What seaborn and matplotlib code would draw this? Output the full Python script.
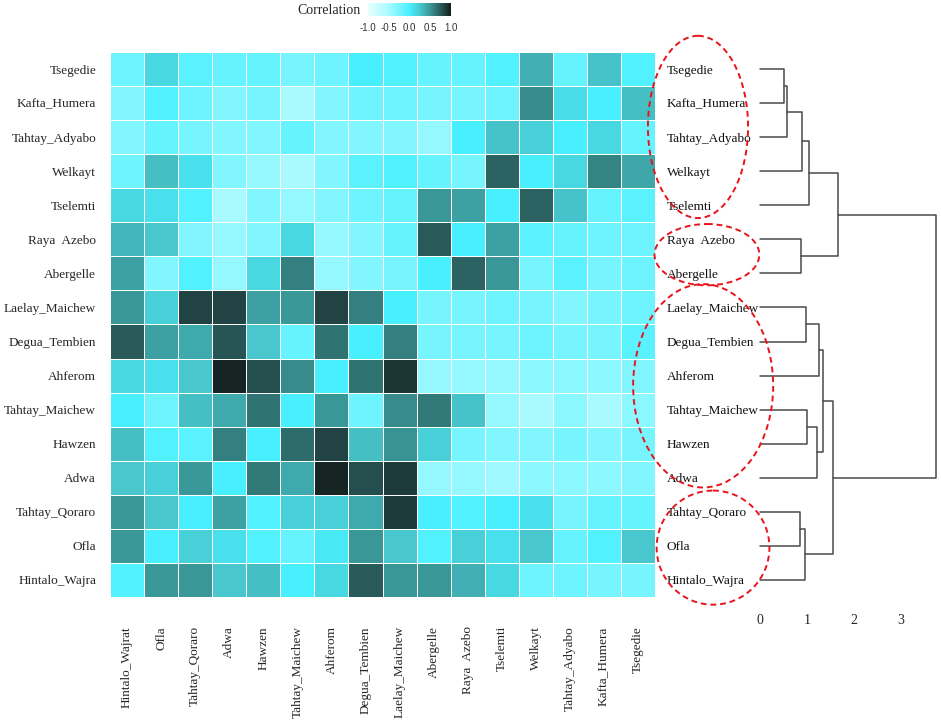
import numpy as np
import pandas as pd
import seaborn as sns
import matplotlib.pyplot as plt
from matplotlib.colors import LinearSegmentedColormap
from matplotlib.patches import Ellipse

# row order (top -> bottom) and column order (left -> right)
rows = ["Tsegedie", "Kafta_Humera", "Tahtay_Adyabo", "Welkayt", "Tselemti",
        "Raya  Azebo", "Abergelle", "Laelay_Maichew", "Degua_Tembien", "Ahferom",
        "Tahtay_Maichew", "Hawzen", "Adwa", "Tahtay_Qoraro", "Ofla", "Hintalo_Wajra"]
cols = ["Hintalo_Wajrat", "Ofla", "Tahtay_Qoraro", "Adwa", "Hawzen", "Tahtay_Maichew",
        "Ahferom", "Degua_Tembien", "Laelay_Maichew", "Abergelle", "Raya  Azebo",
        "Tselemti", "Welkayt", "Tahtay_Adyabo", "Kafta_Humera", "Tsegedie"]

r_tsegedie = [-0.2, 0.15, -0.1, -0.15, -0.15, -0.25, -0.2, 0.0, -0.05, -0.15, -0.15, -0.05, 0.38, -0.15, 0.28, -0.05]
r_kafta = [-0.3, -0.05, -0.2, -0.3, -0.25, -0.5, -0.3, -0.2, -0.2, -0.25, -0.25, -0.2, 0.55, 0.12, 0.0, 0.3]
r_adyabo = [-0.3, -0.15, -0.25, -0.3, -0.3, -0.15, -0.3, -0.3, -0.3, -0.4, 0.0, 0.28, 0.2, 0.0, 0.15, -0.15]
r_welkayt = [-0.2, 0.3, 0.1, -0.3, -0.4, -0.5, -0.3, -0.1, -0.05, -0.15, -0.25, 0.72, 0.0, 0.15, 0.58, 0.42]
r_tselemti = [0.15, 0.1, -0.05, -0.5, -0.3, -0.4, -0.3, -0.2, -0.15, 0.5, 0.45, 0.0, 0.72, 0.28, -0.15, -0.1]
r_raya = [0.35, 0.25, -0.3, -0.4, -0.3, 0.15, -0.4, -0.3, -0.15, 0.75, 0.0, 0.45, -0.1, -0.15, -0.2, -0.2]
r_abergelle = [0.45, -0.3, -0.05, -0.4, 0.15, 0.6, -0.4, -0.3, -0.25, 0.0, 0.72, 0.5, -0.25, -0.1, -0.25, -0.2]
r_laelay = [0.5, 0.2, 0.85, 0.85, 0.45, 0.5, 0.85, 0.6, 0.0, -0.25, -0.25, -0.2, -0.25, -0.3, -0.25, -0.2]
r_degua = [0.75, 0.45, 0.4, 0.78, 0.25, -0.15, 0.65, 0.0, 0.6, -0.25, -0.25, -0.25, -0.2, -0.25, -0.25, -0.1]
r_ahferom = [0.15, 0.1, 0.25, 0.97, 0.8, 0.55, 0.0, 0.65, 0.9, -0.4, -0.4, -0.4, -0.35, -0.35, -0.35, -0.3]
r_tmaichew = [0.0, -0.2, 0.3, 0.4, 0.65, 0.0, 0.5, -0.2, 0.55, 0.62, 0.28, -0.4, -0.5, -0.35, -0.5, -0.35]
r_hawzen = [0.3, -0.05, -0.1, 0.6, 0.0, 0.68, 0.85, 0.3, 0.52, 0.2, -0.25, -0.3, -0.3, -0.25, -0.3, -0.25]
r_adwa = [0.25, 0.2, 0.5, 0.0, 0.62, 0.4, 0.97, 0.8, 0.88, -0.4, -0.4, -0.45, -0.35, -0.35, -0.35, -0.3]
r_qoraro = [0.5, 0.25, 0.0, 0.45, -0.05, 0.2, 0.2, 0.4, 0.88, 0.0, -0.05, 0.0, 0.1, -0.25, -0.15, -0.15]
r_ofla = [0.5, 0.0, 0.2, 0.1, -0.05, -0.15, 0.05, 0.5, 0.25, -0.05, 0.2, 0.1, 0.25, -0.15, -0.05, 0.25]
r_hintalo = [-0.05, 0.5, 0.5, 0.25, 0.3, 0.0, 0.15, 0.75, 0.5, 0.5, 0.38, 0.15, -0.2, -0.2, -0.25, -0.25]

# dendrogram merges: (left, right, height); leaves 0..15 in row order, new clusters from 16
merges = [
    (0, 1, 0.5), (16, 2, 0.57), (17, 3, 0.9), (18, 4, 1.05),
    (5, 6, 0.87), (19, 20, 1.66),
    (7, 8, 0.98), (22, 9, 1.26), (10, 11, 1.0), (24, 12, 1.21), (23, 25, 1.34),
    (13, 14, 0.85), (27, 15, 0.95), (26, 28, 1.55),
    (21, 29, 3.75),
]
dend_ticks = [0, 1, 2, 3]

corr = pd.DataFrame([r_tsegedie, r_kafta, r_adyabo, r_welkayt, r_tselemti, r_raya,
                     r_abergelle, r_laelay, r_degua, r_ahferom, r_tmaichew, r_hawzen,
                     r_adwa, r_qoraro, r_ofla, r_hintalo], index=rows, columns=cols)

sns.set_style("white")
plt.rcParams["font.family"] = ["Liberation Serif", "DejaVu Serif"]

cmap = LinearSegmentedColormap.from_list(
    "corr",
    [(0.0, "#e8ffff"), (0.25, "#a8faff"), (0.5, "#48f0ff"), (0.625, "#48c8d0"),
     (0.75, "#3a9898"), (0.875, "#2a5c5c"), (1.0, "#141e1e")])

fig = plt.figure(figsize=(9.41, 7.24), dpi=100)
ax = fig.add_axes([0.1169, 0.1754, 0.5792, 0.7528])
cax = fig.add_axes([0.391, 0.978, 0.088, 0.018])

sns.heatmap(corr, ax=ax, cmap=cmap, vmin=-1, vmax=1, linewidths=0.7, linecolor="white",
            cbar_ax=cax, cbar_kws={"orientation": "horizontal", "ticks": [-1, -0.5, 0, 0.5, 1]})

ax.tick_params(axis="both", length=0, labelsize=9.5)
ax.tick_params(axis="y", pad=10)
ax.tick_params(axis="x", pad=21)
ax.set_xticklabels(cols, rotation=90, va="top")
ax.set_yticklabels(rows, rotation=0, va="center_baseline")

cax.tick_params(length=2, color="white", direction="in", pad=5)
cax.set_xticklabels(["-1.0", "-0.5", "0.0", "0.5", "1.0"], fontsize=7,
                    family="Liberation Sans", color="#333333")
fig.text(0.383, 0.985, "Correlation", ha="right", va="center", fontsize=10)

# dendrogram panel
axd = fig.add_axes([0.7014, 0.1754, 0.2986, 0.7528])
axd.set_xlim(-2.128, 3.851)
axd.set_ylim(len(rows), 0)
ypos = {i: i + 0.5 for i in range(len(rows))}
xpos = {i: 0.0 for i in range(len(rows))}
for k, (a, b, h) in enumerate(merges):
    axd.plot([xpos[a], h, h, xpos[b]], [ypos[a], ypos[a], ypos[b], ypos[b]],
             color="#4a4a4a", lw=1.1)
    ypos[len(rows) + k] = (ypos[a] + ypos[b]) / 2
    xpos[len(rows) + k] = h

for i, name in enumerate(rows):
    axd.text(-1.98, i + 0.5, name, ha="left", va="center_baseline", fontsize=9.5,
             color="#111111")

# red dashed group ellipses: (x centre, y centre, width, height)
groups = [(-1.32, 2.2, 2.13, 5.35), (-1.13, 5.95, 2.23, 1.8),
          (-1.21, 9.8, 2.98, 5.97), (-1.0, 14.55, 2.4, 3.35)]
for xc, yc, w, h in groups:
    axd.add_patch(Ellipse((xc, yc), w, h, fill=False, edgecolor="#e8141c", lw=1.4,
                          linestyle=(0, (3, 2)), clip_on=False, zorder=5))

axd.set_yticks([])
axd.set_xticks(dend_ticks)
axd.set_xticklabels([str(t) for t in dend_ticks], fontsize=10)
axd.tick_params(axis="x", length=0, pad=12)
for s in axd.spines.values():
    s.set_visible(False)

fig.savefig("out.png", dpi=100)
